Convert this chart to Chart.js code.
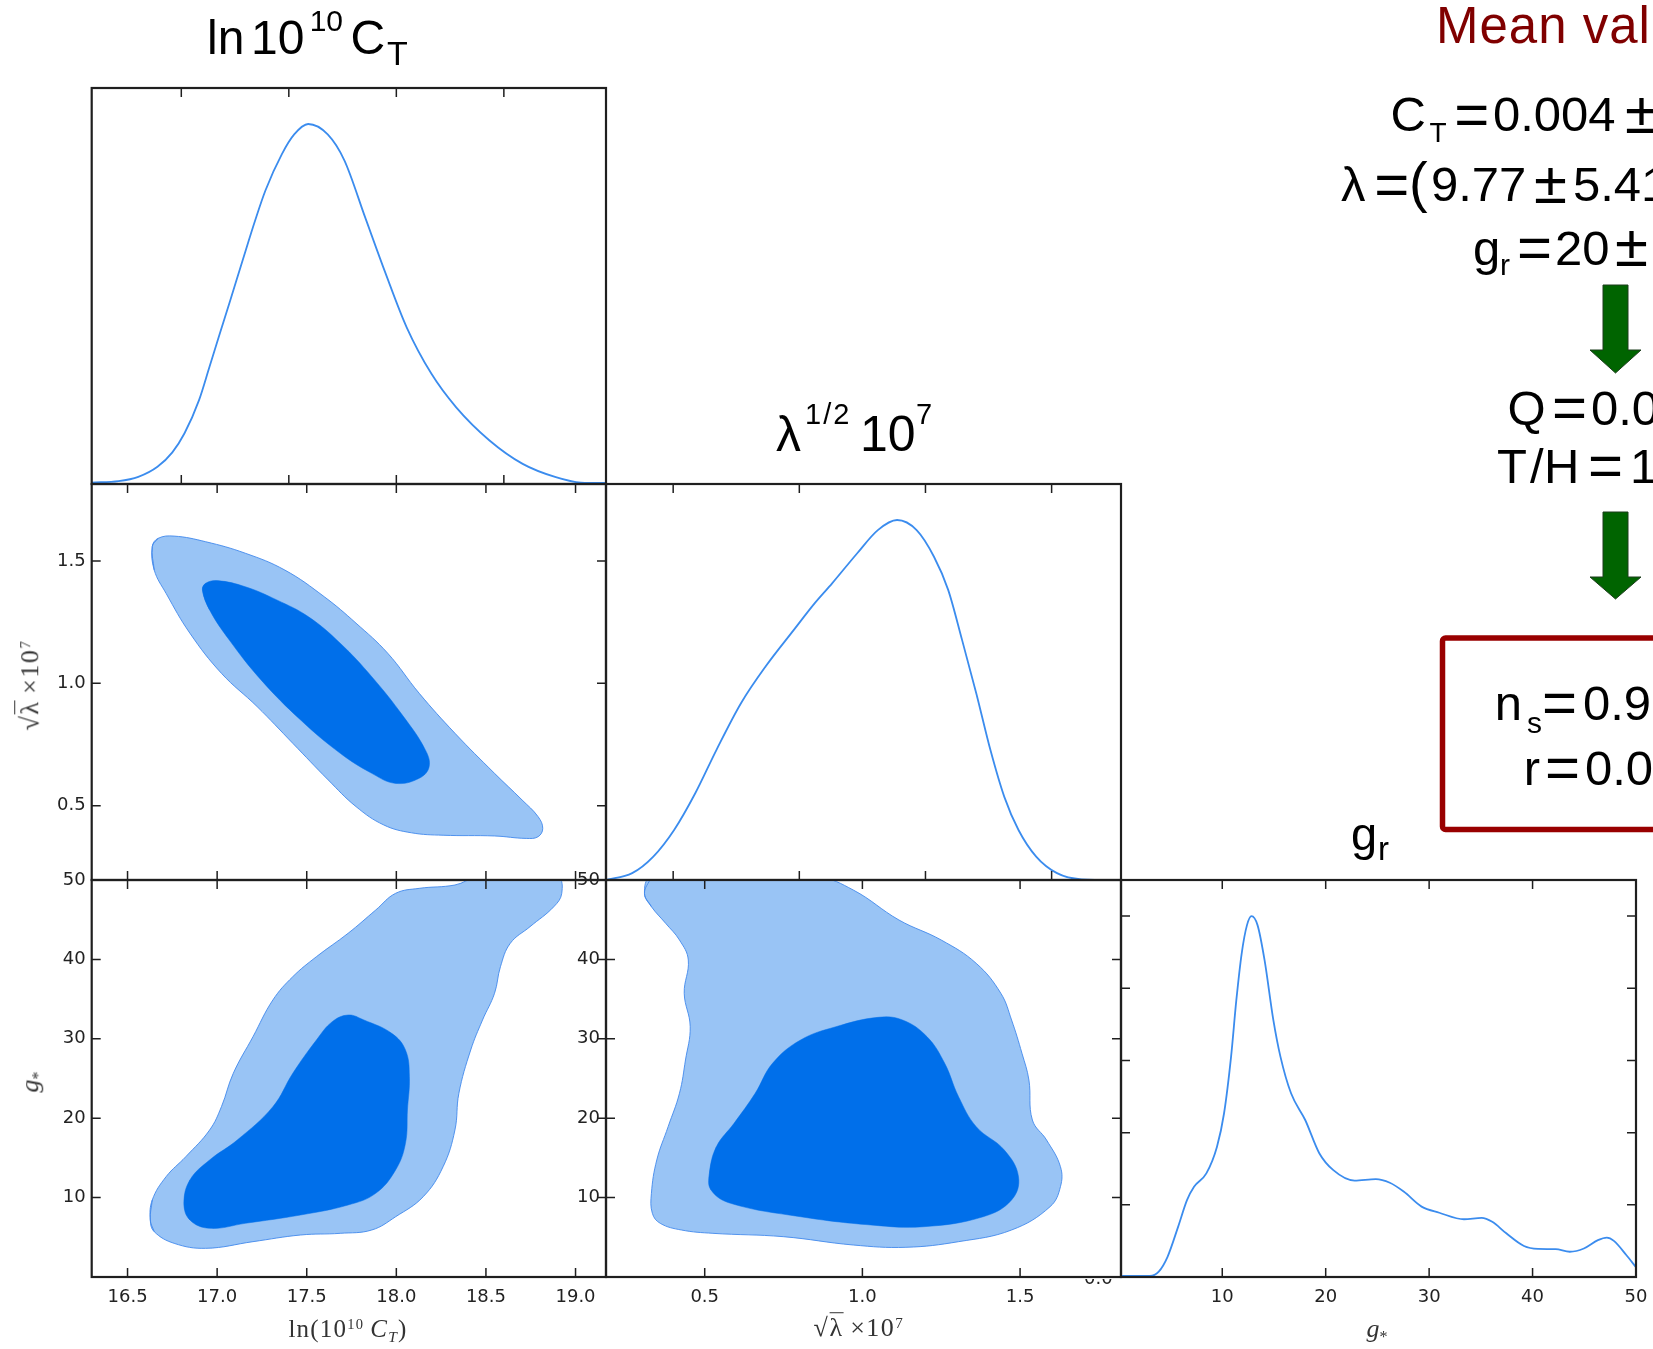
<!DOCTYPE html>
<html><head><meta charset="utf-8">
<script src="https://cdn.jsdelivr.net/npm/chart.js@4.4.1/dist/chart.umd.min.js"></script>
<style>
html,body{margin:0;padding:0;background:#fff;width:1653px;height:1349px;overflow:hidden;position:relative;}
canvas{position:absolute;left:0;top:0;}
.t{position:absolute;line-height:1;white-space:nowrap;font-family:"Liberation Sans",Arial,sans-serif;color:#000;}
.ax{position:absolute;line-height:1;white-space:nowrap;font-family:"Liberation Serif",serif;color:#333;transform-origin:0 0;}
.sup{font-size:0.58em;position:relative;top:-0.55em;line-height:0;}
.sub{font-size:0.62em;position:relative;top:0.3em;line-height:0;}
</style></head><body>
<script>
// ---------------- data ----------------
const ctRange   = [16.3, 19.17];     // ln(10^10 C_T) axis
const lamRangeX = [0.187, 1.82];     // sqrt(lambda)*1e7 as x
const lamRangeY = [0.196, 1.815];    // sqrt(lambda)*1e7 as y
const gRangeX   = [0.21, 50];        // g_* as x
const gRangeY   = [0, 50];           // g_* as y
const pdfRange  = [0, 1.1];          // normalised 1D posterior

const ctTicks     = [16.5, 17.0, 17.5, 18.0, 18.5, 19.0];
const ctPdfTicks  = [16.8, 17.4, 18.0, 18.6];
const lamTicks    = [0.5, 1.0, 1.5];
const lamPdfTicks = [0.4, 0.8, 1.2, 1.6];
const gTicks      = [10, 20, 30, 40, 50];
const gPdfYTicks  = [0.2, 0.4, 0.6, 0.8, 1.0];

// 1D marginals
const ctPdfX = [16.30,16.45,16.56,16.667,16.75,16.818,16.899,16.957,17.015,17.073,17.142,17.212,17.27,17.362,17.43,17.508,17.617,17.71,17.825,17.94,18.057,18.196,18.334,18.52,18.705,18.89,19.03,19.17];
const ctPdfY = [0.004,0.008,0.02,0.048,0.088,0.141,0.233,0.325,0.418,0.51,0.621,0.732,0.816,0.917,0.971,1.0,0.971,0.899,0.742,0.585,0.436,0.306,0.213,0.121,0.056,0.019,0.004,0.003];

const lamPdfX = [0.187,0.27,0.337,0.403,0.47,0.537,0.615,0.693,0.782,0.849,0.904,0.983,1.049,1.11,1.172,1.227,1.272,1.316,1.361,1.406,1.45,1.495,1.551,1.617,1.695,1.82];
const lamPdfY = [0,0.019,0.065,0.139,0.241,0.361,0.491,0.593,0.694,0.769,0.824,0.907,0.972,1.0,0.972,0.898,0.806,0.667,0.519,0.361,0.231,0.139,0.065,0.019,0.002,0];

const gPdfX = [0.28,3.0,3.86,4.71,5.73,6.59,7.27,8.46,9.49,10.17,10.85,11.36,11.88,12.39,12.83,13.41,14.09,14.94,15.63,16.65,18.02,19.38,20.74,22.79,24.84,26.2,27.57,29.27,30.98,33.37,35.08,36.1,37.46,39.17,40.53,42.23,43.6,44.96,46.32,47.18,47.86,49.06,50.0];
const gPdfY = [0.003,0.003,0.015,0.056,0.139,0.213,0.25,0.287,0.361,0.453,0.61,0.767,0.897,0.975,1.0,0.975,0.878,0.712,0.61,0.509,0.435,0.343,0.296,0.267,0.271,0.261,0.236,0.195,0.178,0.16,0.164,0.153,0.121,0.086,0.078,0.077,0.07,0.079,0.102,0.109,0.1,0.061,0.027];

// 2D credible regions (68% inner, 95% outer) as [x, y] boundary points
const ctLam95 = [[16.638,1.559],[16.671,1.593],[16.76,1.602],[16.936,1.579],[17.157,1.532],[17.378,1.463],[17.598,1.354],[17.775,1.246],[17.952,1.123],[18.128,0.959],[18.327,0.796],[18.548,0.632],[18.702,0.523],[18.791,0.455],[18.817,0.407],[18.791,0.373],[18.725,0.366],[18.548,0.376],[18.261,0.379],[18.084,0.389],[17.93,0.421],[17.775,0.496],[17.62,0.605],[17.422,0.755],[17.223,0.905],[17.024,1.041],[16.848,1.205],[16.715,1.368],[16.649,1.463]];
const ctLam68 = [[16.918,1.382],[16.936,1.409],[17.002,1.42],[17.157,1.395],[17.333,1.341],[17.51,1.272],[17.687,1.164],[17.863,1.027],[18.04,0.864],[18.162,0.728],[18.183,0.659],[18.128,0.612],[17.996,0.591],[17.863,0.632],[17.687,0.714],[17.466,0.85],[17.245,1.014],[17.068,1.177],[16.958,1.3]];

const ctG95 = [[16.627,7.18],[16.638,9.7],[16.715,12.63],[16.825,15.15],[16.958,18.51],[17.024,21.45],[17.09,25.65],[17.2,30.26],[17.311,34.89],[17.422,37.82],[17.554,40.34],[17.731,43.29],[17.885,46.22],[17.996,48.32],[18.128,48.95],[18.327,49.37],[18.45,50.3],[18.9,50.3],[18.923,48.32],[18.879,46.64],[18.746,44.12],[18.636,42.03],[18.581,39.08],[18.548,35.73],[18.481,32.37],[18.415,28.59],[18.349,23.14],[18.327,18.51],[18.261,13.89],[18.15,10.11],[17.996,7.59],[17.863,5.92],[17.687,5.5],[17.466,5.29],[17.2,4.45],[16.936,3.61],[16.76,4.24],[16.649,5.71]];
const ctG68 = [[16.815,9.28],[16.848,12.22],[16.958,14.74],[17.112,17.25],[17.311,21.45],[17.422,25.65],[17.554,29.85],[17.642,32.15],[17.731,33.0],[17.819,32.37],[17.974,30.69],[18.051,28.59],[18.073,25.23],[18.062,21.03],[18.051,16.84],[17.996,13.48],[17.885,10.54],[17.731,9.07],[17.466,7.81],[17.157,6.76],[16.958,6.13],[16.848,7.18]];

const lamG95 = [[0.309,48.32],[0.33,50.3],[0.86,50.3],[0.971,48.74],[1.116,44.96],[1.25,42.44],[1.361,39.5],[1.439,35.73],[1.473,32.37],[1.506,28.17],[1.528,24.81],[1.539,19.77],[1.584,17.25],[1.628,13.89],[1.628,11.37],[1.595,8.85],[1.473,5.92],[1.305,4.45],[1.138,3.74],[0.971,4.03],[0.749,5.08],[0.526,5.5],[0.426,5.92],[0.359,6.76],[0.334,8.02],[0.331,10.54],[0.348,14.74],[0.384,18.93],[0.42,23.14],[0.439,27.33],[0.454,31.52],[0.435,35.73],[0.448,39.92],[0.42,42.44],[0.376,44.55],[0.331,46.64]];
const lamG68 = [[0.515,13.06],[0.537,16.41],[0.593,19.36],[0.66,23.14],[0.715,26.91],[0.804,29.85],[0.916,31.52],[1.049,32.7],[1.127,32.37],[1.205,30.26],[1.261,26.91],[1.305,22.71],[1.361,18.93],[1.45,15.99],[1.495,12.63],[1.473,9.7],[1.383,7.59],[1.194,6.33],[1.027,6.55],[0.804,7.59],[0.582,9.28],[0.52,10.96]];

// ---------------- layout & style ----------------
const CW = 1760, PH = 1349;   // canvas a little wider than the page so edge labels never squeeze the plot
const COLS = [91.7, 606, 1121, 1636];
const ROWS = [88, 484, 880, 1277];
const OUTER_FILL = '#99c4f5', OUTER_EDGE = 'rgba(66,138,236,0.9)', INNER_FILL = '#006fea', LINE = '#3b8cee';
const TICK_FONT = {family: 'DejaVu Sans', size: 18};

const pts = (xs, ys) => xs.map((x, i) => ({x, y: ys[i]}));
const loop = arr => [arr[arr.length - 1], ...arr, arr[0], arr[1]].map(([x, y]) => ({x, y}));
const lineDs = (xs, ys) => ({data: pts(xs, ys), showLine: true, borderColor: LINE, borderWidth: 1.8,
  pointRadius: 0, cubicInterpolationMode: 'monotone', fill: false});
const regionDs = (arr, inner) => ({data: loop(arr), showLine: true, fill: 'shape', tension: 0.4,
  backgroundColor: inner ? INNER_FILL : OUTER_FILL, borderColor: inner ? INNER_FILL : OUTER_EDGE,
  borderWidth: inner ? 0.5 : 1, pointRadius: 0});

const framePlugin = spec => ({
  id: 'frame',
  afterDatasetsDraw(chart) {
    const {ctx, chartArea: a} = chart;
    const xs = chart.scales.x, ys = chart.scales.y, L = 9;
    ctx.save();
    ctx.strokeStyle = '#1f1f1f';
    ctx.lineWidth = 1.5;
    ctx.beginPath();
    if (spec.xt) xs.ticks.forEach(t => {
      const p = xs.getPixelForValue(t.value);
      if (p < a.left + 2 || p > a.right - 2) return;
      ctx.moveTo(p, a.top); ctx.lineTo(p, a.top + L);
      ctx.moveTo(p, a.bottom); ctx.lineTo(p, a.bottom - L);
    });
    if (spec.yt) ys.ticks.forEach(t => {
      const p = ys.getPixelForValue(t.value);
      if (p < a.top + 2 || p > a.bottom - 2) return;
      ctx.moveTo(a.left, p); ctx.lineTo(a.left + L, p);
      ctx.moveTo(a.right, p); ctx.lineTo(a.right - L, p);
    });
    ctx.stroke();
    ctx.lineWidth = 2.2;
    ctx.strokeRect(a.left, a.top, a.right - a.left, a.bottom - a.top);
    ctx.restore();
  }
});

function panel(p) {
  const left = COLS[p.col], right = COLS[p.col + 1], top = ROWS[p.row], bottom = ROWS[p.row + 1];
  const yW = p.yFmt ? 80 : 0, xH = p.xFmt ? 40 : 0;
  const cv = document.createElement('canvas');
  cv.width = CW; cv.height = PH;
  document.body.appendChild(cv);
  const axis = (range, ticks, fmt, isX, pad) => ({
    type: 'linear', position: isX ? 'bottom' : 'left', min: range[0], max: range[1], bounds: 'data',
    grid: {display: false, drawTicks: false}, border: {display: false},
    afterBuildTicks: s => { s.ticks = ticks.map(v => ({value: v})); },
    afterFit: s => { if (isX) s.height = xH; else s.width = yW; },
    ticks: {display: !!fmt, autoSkip: false, maxRotation: 0, minRotation: 0, padding: pad,
      color: '#222', font: TICK_FONT, callback: fmt || (v => '')}
  });
  new Chart(cv, {
    type: 'scatter',
    data: {datasets: p.datasets},
    options: {
      responsive: false, animation: false, devicePixelRatio: 1, events: [],
      layout: {padding: {left: left - yW, top: top, right: CW - right, bottom: PH - bottom - xH}},
      plugins: {legend: {display: false}, tooltip: {enabled: false}},
      scales: {x: axis(p.xr, p.xTicks, p.xFmt, true, 10), y: axis(p.yr, p.yTicks, p.yFmt, false, 6)}
    },
    plugins: [framePlugin(p.spec)]
  });
}
const f1 = v => Number(v).toFixed(1), f0 = v => String(v);

panel({col: 0, row: 0, xr: ctRange, yr: pdfRange, xTicks: ctPdfTicks, yTicks: [0], spec: {xt: true},
  datasets: [lineDs(ctPdfX, ctPdfY)]});
panel({col: 0, row: 1, xr: ctRange, yr: lamRangeY, xTicks: ctTicks, yTicks: lamTicks, yFmt: f1, spec: {xt: true, yt: true},
  datasets: [regionDs(ctLam68, true), regionDs(ctLam95, false)]});
panel({col: 0, row: 2, xr: ctRange, yr: gRangeY, xTicks: ctTicks, yTicks: gTicks, xFmt: f1, yFmt: f0, spec: {xt: true, yt: true},
  datasets: [regionDs(ctG68, true), regionDs(ctG95, false)]});
panel({col: 1, row: 1, xr: lamRangeX, yr: pdfRange, xTicks: lamPdfTicks, yTicks: [0], spec: {xt: true},
  datasets: [lineDs(lamPdfX, lamPdfY)]});
panel({col: 1, row: 2, xr: lamRangeX, yr: gRangeY, xTicks: lamTicks, yTicks: gTicks, xFmt: f1, yFmt: f0, spec: {xt: true, yt: true},
  datasets: [regionDs(lamG68, true), regionDs(lamG95, false)]});
panel({col: 2, row: 2, xr: gRangeX, yr: pdfRange, xTicks: gTicks, yTicks: gPdfYTicks, xFmt: f0, spec: {xt: true, yt: true},
  datasets: [lineDs(gPdfX, gPdfY)]});

// ---------------- text ----------------
function tok(text, x, base, size, o = {}) {
  const d = document.createElement('div');
  d.className = 't';
  d.textContent = text;
  d.style.left = x + 'px';
  d.style.top = (base - 0.846 * size) + 'px';
  d.style.fontSize = size + 'px';
  if (o.color) d.style.color = o.color;
  if (o.ls) d.style.letterSpacing = o.ls + 'px';
  document.body.appendChild(d);
}
function ax(html, px, py, size, rot, ls) {
  const d = document.createElement('div');
  d.className = 'ax';
  d.innerHTML = html;
  d.style.fontSize = size + 'px';
  if (ls) d.style.letterSpacing = ls + 'px';
  d.style.left = px + 'px';
  d.style.top = py + 'px';
  const bo = 0.8375 * size;
  d.style.transform = (rot ? 'rotate(-90deg) ' : '') + 'translate(-50%,' + (-bo) + 'px)';
  document.body.appendChild(d);
}

// panel titles
tok('ln', 207, 55, 48); tok('10', 251, 55, 48); tok('10', 309.7, 31.7, 30); tok('C', 350.6, 55, 48); tok('T', 387, 65, 34);
tok('λ', 776, 451.7, 50); tok('1/2', 805, 424.5, 29, {ls: 2}); tok('10', 860, 451.7, 50); tok('7', 916, 424.5, 29);
tok('g', 1351, 850, 47); tok('r', 1378, 860, 33);

// right block
tok('Mean values', 1436, 43.3, 51, {color: '#800000', ls: 1});
tok('C', 1390.5, 131.7, 49); tok('T', 1429.5, 143, 28); tok('=', 1454.2, 135.5, 60); tok('0.004', 1493, 131.7, 49); tok('±', 1625, 133.5, 60);
tok('λ', 1341, 201.7, 49); tok('=', 1374.2, 205.5, 60); tok('(', 1409, 201.2, 56); tok('9.77', 1431, 201.7, 49); tok('±', 1534, 203.5, 60); tok('5.41', 1573, 201.7, 49);
tok('g', 1473, 265, 49); tok('r', 1500, 275, 30); tok('=', 1517, 269, 60); tok('20', 1555, 265, 49); tok('±', 1615, 267, 60);
tok('Q', 1507.6, 425, 49); tok('=', 1552, 429, 60); tok('0.0', 1591, 425, 49);
tok('T', 1497, 483.3, 49); tok('/', 1530, 483.3, 49); tok('H', 1544, 483.3, 49); tok('=', 1588, 487, 60); tok('1', 1630, 483.3, 49);
tok('n', 1494.8, 720, 49); tok('s', 1527, 733, 30); tok('=', 1542, 724, 60); tok('0.9', 1583, 720, 49);
tok('r', 1523.8, 785, 49); tok('=', 1545, 789, 60); tok('0.0', 1585, 785, 49);

// axis titles
const sqrtLam = '√<span style="border-top:1.3px solid #333">λ</span>&thinsp;×10<span class="sup">7</span>';
const gStar = '<i>g</i><span class="sub">*</span>';
ax('ln(10<span class="sup">10</span>&thinsp;<i>C</i><span class="sub"><i>T</i></span>)', 348, 1337, 25, false, 1.2);
ax(sqrtLam, 859, 1337, 26, false, 1.5);
ax(gStar, 1377, 1338, 26, false, 0);
ax(sqrtLam, 39, 685, 26, true, 1.5);
ax(gStar, 39, 1082, 26, true, 0);

// partially hidden 0.0 label of the g_* marginal
(function () {
  const w = document.createElement('div');
  w.style.cssText = 'position:absolute;left:1080px;top:1278.5px;width:40px;height:5px;overflow:hidden;';
  const s = document.createElement('div');
  s.textContent = '0.0';
  s.style.cssText = 'position:absolute;left:4px;top:-10px;font:18px "DejaVu Sans";line-height:1;color:#222;white-space:nowrap;';
  w.appendChild(s);
  document.body.appendChild(w);
})();
</script>
<svg width="1653" height="1349" style="position:absolute;left:0;top:0;pointer-events:none">
<polygon points="1603,285 1628,285 1628,350 1641,350 1615.5,373 1590,350 1603,350" fill="#006400" stroke="#1d3d1d" stroke-width="1"/>
<polygon points="1603,512 1628,512 1628,577 1641,577 1615.5,599 1590,577 1603,577" fill="#006400" stroke="#1d3d1d" stroke-width="1"/>
<rect x="1442.5" y="638" width="260" height="191.5" rx="3" fill="none" stroke="#990000" stroke-width="5.5"/>
</svg>
</body></html>
